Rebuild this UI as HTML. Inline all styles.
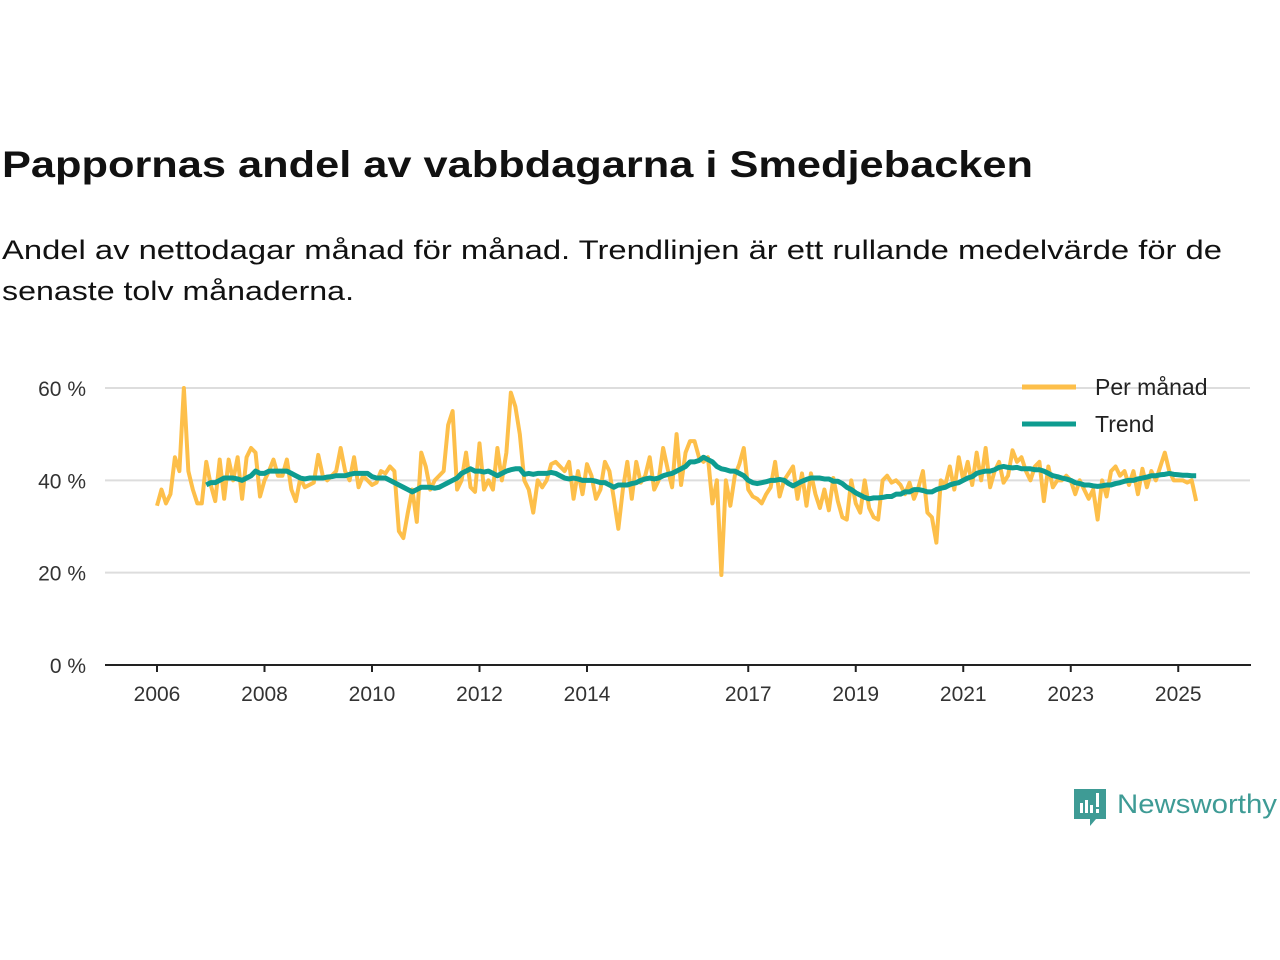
<!DOCTYPE html>
<html><head><meta charset="utf-8"><style>
html,body{margin:0;padding:0;background:#fff;}
svg{display:block;font-family:"Liberation Sans","DejaVu Sans",sans-serif;}
</style></head><body>
<svg id="chart" width="1280" height="960" viewBox="0 0 1280 960">
<text x="2" y="177" font-size="37" font-weight="bold" fill="#111" textLength="1031" lengthAdjust="spacingAndGlyphs">Pappornas andel av vabbdagarna i Smedjebacken</text>
<text x="2" y="259" font-size="27" fill="#111" textLength="1220" lengthAdjust="spacingAndGlyphs">Andel av nettodagar månad för månad. Trendlinjen är ett rullande medelvärde för de</text>
<text x="2" y="300" font-size="27" fill="#111" textLength="352" lengthAdjust="spacingAndGlyphs">senaste tolv månaderna.</text>
<g id="grid"></g>
<g id="xaxis"></g>
<g id="series"></g>
<g>
<line x1="1022" y1="387" x2="1076" y2="387" stroke="#FDBF4A" stroke-width="5"/>
<text x="1095" y="395" font-size="23" fill="#222">Per månad</text>
<line x1="1022" y1="424" x2="1076" y2="424" stroke="#0E9C90" stroke-width="5"/>
<text x="1095" y="432" font-size="23" fill="#222">Trend</text>
</g>
<g>
<path d="M1074 789h32v30h-10l-6 7v-7h-16z" fill="#3E9B95"/>
<rect x="1080" y="803" width="3" height="10" fill="#fff"/><rect x="1085" y="800" width="3" height="13" fill="#fff"/><rect x="1090" y="805" width="3" height="8" fill="#fff"/><rect x="1096" y="793" width="3" height="14" fill="#fff"/><rect x="1096" y="809" width="3" height="4" fill="#fff"/>
<text x="1117" y="813" font-size="27" fill="#3E9B95" textLength="160" lengthAdjust="spacingAndGlyphs">Newsworthy</text>
</g>
</svg>
<script>
const monthly = [
34.5,38,35,37,45,42,60,42,38,35,35,44,
39,35.5,44.5,36,44.5,40,45,36,45,47,46,36.5,
40,42,44.5,41,41,44.5,38,35.5,40.5,38.5,39,39.5,45.5,
41,40,41,42,47,42,40,45,38.5,41,40,39,39.5,
42,41.5,43,42,29,27.5,33,38,31,46,43,38,40,
41,42,52,55,38,40,46,38.5,37.5,48,38,40,
38,47,40,46,59,56,50,40,38,33,40,38.5,
40,43.5,44,43,42,44,36,42,37,43.5,41,36,
38,44,42,36,29.5,38,44,36,44,39.5,41,45,
38,40,47,42.5,38.5,50,39,46,48.5,48.5,45,44,
45,35,40,19.5,40,34.5,41,43.5,47,38,36.5,36,
35,37,38.5,44,36.5,40,41.5,43,36,41.5,34.5,
41.5,37,34,38,33.5,40.5,35.5,32,31.5,40,
35,33,40,34,32,31.5,40,41,39.5,40,39,37,
39.5,36,38.5,42,33,32,26.5,40,39,43,38,45,
40,44,39,46,40,47,38.5,42,44,39.5,41,46.5,
44,45,42,40,43,44,35.5,43,38.5,40,40,41,
40,37,40,38,36,38,31.5,40,36.5,42,43,41,
42,39,42,37,42.5,38.5,42,40,43,46,42,40,
40,40,39.5,40,35.5];
const trendStart = 11;
const trend = [39,
39.5,39.5,40,40.5,40.5,40.5,40.3,40,40.5,41,42,41.5,
41.5,42,42,42,42,42,41.5,41,40.5,40.3,40.5,40.5,
40.5,40.5,40.7,40.8,41,41,41,41.3,41.5,41.5,41.5,41.5,
40.8,40.5,40.5,40.5,40,39.5,39,38.5,38,37.5,38,38.5,
38.5,38.5,38.3,38.5,39,39.5,40,40.5,41.5,42,42.5,42,
42,41.8,42,41.5,41,41.5,42,42.3,42.5,42.5,41.3,41.5,
41.3,41.5,41.5,41.5,41.7,41.5,41,40.5,40.3,40.5,40.3,40,
40,40,39.8,39.5,39.5,39,38.5,39,39,39,39.3,39.5,
40,40.3,40.5,40.3,40.5,41,41.3,41.5,42,42.5,43,44,
44,44.3,45,44.5,44,43,42.5,42.3,42,42,41.5,41,
40,39.5,39.3,39.5,39.7,40,40,40.2,40,39.3,38.8,39.3,
39.8,40.2,40.5,40.5,40.5,40.3,40.3,39.8,39.8,39.3,38.5,38,
37.3,36.8,36.3,36,36.2,36.2,36.3,36.5,36.5,37,37,37.5,
37.5,38,38,37.8,37.5,37.5,38,38.3,38.5,39,39.3,39.5,
40,40.5,40.8,41.5,41.8,42,42,42.3,42.8,43,42.8,42.7,
42.8,42.5,42.5,42.5,42.3,42.3,42,41.5,41,40.8,40.5,40.3,
40,39.5,39.3,39,39,38.8,38.7,38.8,39,39,39.3,39.5,
39.8,40,40,40.3,40.5,40.7,41,41,41.2,41.3,41.5,41.3,
41.2,41.1,41.1,41,41];
const yTicks = [0,20,40,60];
const yTickLabels = ["0 %","20 %","40 %","60 %"];
const xYears = [2006,2008,2010,2012,2014,2017,2019,2021,2023,2025];

const NS="http://www.w3.org/2000/svg";
const x0=157, pxPerYear=53.75;
function xScale(m){return x0+m*pxPerYear/12;}
function xYear(y){return x0+(y-2006)*pxPerYear;}
function yScale(v){return 665-v*(665-388)/60;}
function mk(tag,attrs,parent){const e=document.createElementNS(NS,tag);for(const k in attrs)e.setAttribute(k,attrs[k]);parent.appendChild(e);return e;}

const grid=document.getElementById('grid');
yTicks.forEach((t,i)=>{
  const y=yScale(t);
  if(t>0){const l=mk('line',{x1:105,x2:1250,y1:y,y2:y,stroke:'#ddd','stroke-width':2},grid);
  
  }
  const tx=mk('text',{x:86,y:y+8,'font-size':21,'text-anchor':'end',fill:'#333'},grid);
  tx.textContent=yTickLabels[i];
  
  
});
const xa=document.getElementById('xaxis');
const base=mk('line',{x1:105,x2:1251,y1:665,y2:665,stroke:'#222','stroke-width':2},xa);


xYears.forEach(yr=>{
  const x=xYear(yr);
  const tk=mk('line',{x1:x,x2:x,y1:665,y2:672,stroke:'#222','stroke-width':2},xa);
  
  
  const tx=mk('text',{x:x,y:701,'font-size':21,'text-anchor':'middle',fill:'#333'},xa);
  tx.textContent=yr;
  
  
});
const s=document.getElementById('series');
const p1=mk('polyline',{points:monthly.map((v,i)=>xScale(i)+','+yScale(v)).join(' '),fill:'none',stroke:'#FDBF4A','stroke-width':4,'stroke-linejoin':'round'},s);


const p2=mk('polyline',{points:trend.map((v,i)=>xScale(i+trendStart)+','+yScale(v)).join(' '),fill:'none',stroke:'#0E9C90','stroke-width':5,'stroke-linejoin':'round'},s);


</script>
</body></html>
